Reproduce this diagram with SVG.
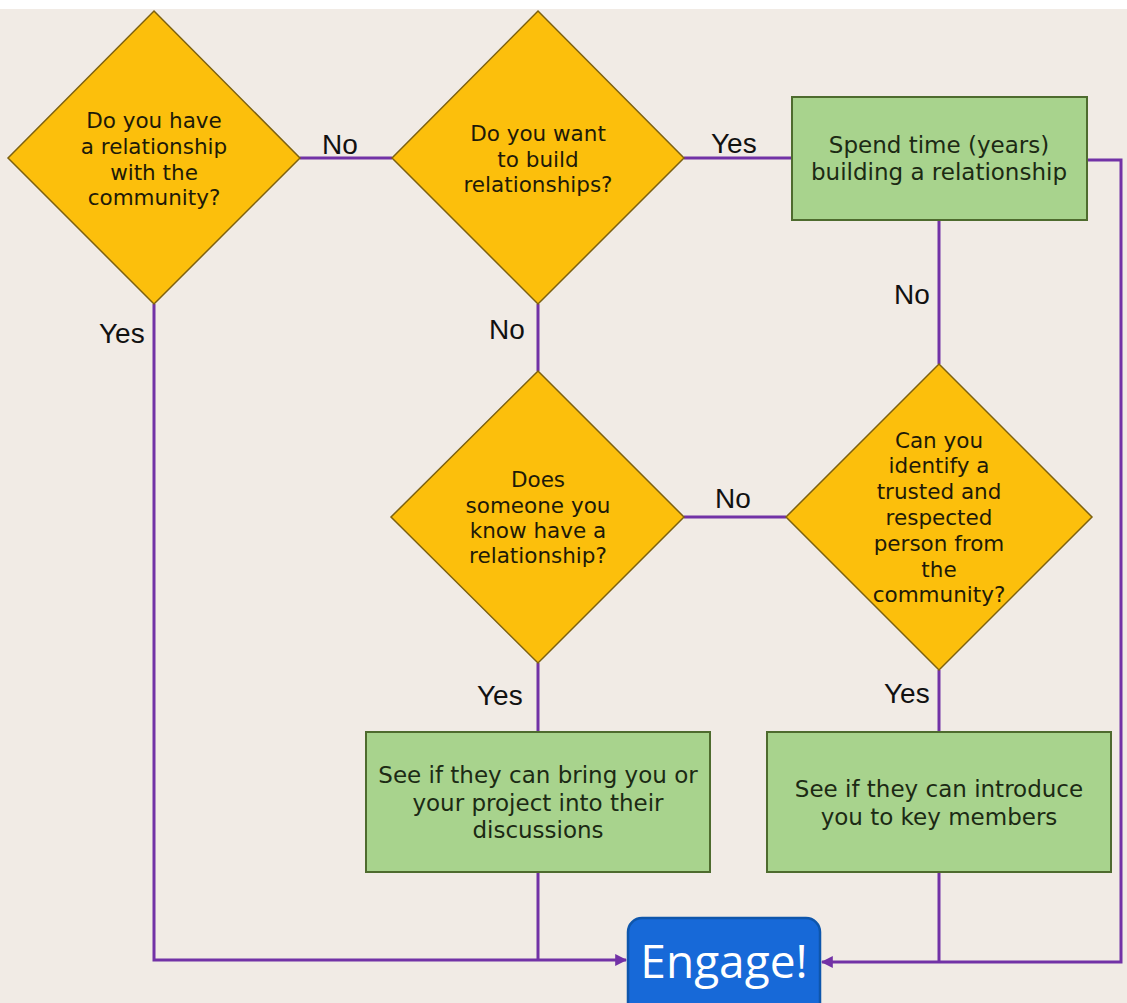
<svg xmlns="http://www.w3.org/2000/svg" width="1127" height="1003" viewBox="0 0 1127 1003">
<style>
.dia{fill:#fcbf0c;stroke:#7d6110;stroke-width:1.5}
.box{fill:#a8d38d;stroke:#4e6b2e;stroke-width:2}
.dt{font-family:"DejaVu Sans",Verdana,sans-serif;font-size:21.5px;fill:#1e1a08;text-anchor:middle}
.bt{font-family:"DejaVu Sans",Verdana,sans-serif;font-size:23px;fill:#1c2a14;text-anchor:middle}
.lbl{font-family:"Liberation Sans",Arial,sans-serif;font-size:28px;fill:#111}
.con{fill:none;stroke:#7232a6;stroke-width:3}
</style>
<defs>
<marker id="ah" viewBox="0 0 10 10" refX="9" refY="5" markerWidth="4" markerHeight="4" orient="auto" markerUnits="strokeWidth">
<path d="M0,0 L10,5 L0,10 z" fill="#7232a6"/>
</marker>
</defs>
<rect x="0" y="0" width="1127" height="1003" fill="#f1ebe5"/>
<rect x="0" y="0" width="1127" height="9" fill="#ffffff"/>
<g id="connectors">
<path class="con" d="M300,158 H392"/>
<path class="con" d="M684,158 H792"/>
<path class="con" d="M1087,160 H1121 V962 H822" marker-end="url(#ah)"/>
<path class="con" d="M939,220 V364"/>
<path class="con" d="M538,304 V371"/>
<path class="con" d="M684,517 H786"/>
<path class="con" d="M538,663 V732"/>
<path class="con" d="M939,670 V732"/>
<path class="con" d="M154,304 V960 H626" marker-end="url(#ah)"/>
<path class="con" d="M538,872 V960"/>
<path class="con" d="M939,872 V962"/>
<text class="lbl" x="322" y="154">No</text>
<text class="lbl" x="711" y="153">Yes</text>
<text class="lbl" x="894" y="304">No</text>
<text class="lbl" x="489" y="339">No</text>
<text class="lbl" x="715" y="508">No</text>
<text class="lbl" x="99" y="343">Yes</text>
<text class="lbl" x="477" y="705">Yes</text>
<text class="lbl" x="884" y="703">Yes</text>
</g>
<g id="q1">
<polygon class="dia" points="154,11 300,158 154,304 8,158"/>
<text class="dt" x="154" y="128">Do you have</text>
<text class="dt" x="154" y="154">a relationship</text>
<text class="dt" x="154" y="180">with the</text>
<text class="dt" x="154" y="205">community?</text>
</g>
<g id="q2">
<polygon class="dia" points="538,11 684,158 538,304 392,158"/>
<text class="dt" x="538" y="141">Do you want</text>
<text class="dt" x="538" y="167">to build</text>
<text class="dt" x="538" y="192">relationships?</text>
</g>
<g id="spend">
<rect class="box" x="792" y="97" width="295" height="123"/>
<text class="bt" x="939" y="153">Spend time (years)</text>
<text class="bt" x="939" y="180">building a relationship</text>
</g>
<g id="q3">
<polygon class="dia" points="538,371 684,517 538,663 391,517"/>
<text class="dt" x="538" y="487">Does</text>
<text class="dt" x="538" y="513">someone you</text>
<text class="dt" x="538" y="538">know have a</text>
<text class="dt" x="538" y="563">relationship?</text>
</g>
<g id="q4">
<polygon class="dia" points="939,364 1092,517 939,670 786,517"/>
<text class="dt" x="939" y="448">Can you</text>
<text class="dt" x="939" y="473">identify a</text>
<text class="dt" x="939" y="499">trusted and</text>
<text class="dt" x="939" y="525">respected</text>
<text class="dt" x="939" y="551">person from</text>
<text class="dt" x="939" y="577">the</text>
<text class="dt" x="939" y="602">community?</text>
</g>
<g id="bring">
<rect class="box" x="366" y="732" width="344" height="140"/>
<text class="bt" x="538" y="783">See if they can bring you or</text>
<text class="bt" x="538" y="811">your project into their</text>
<text class="bt" x="538" y="838">discussions</text>
</g>
<g id="introduce">
<rect class="box" x="767" y="732" width="344" height="140"/>
<text class="bt" x="939" y="797">See if they can introduce</text>
<text class="bt" x="939" y="825">you to key members</text>
</g>
<g id="engage">
<rect x="628" y="918" width="192" height="100" rx="14" fill="#1769d8" stroke="#0e56ac" stroke-width="2.5"/>
<text x="724" y="978" font-family="'Open Sans','Noto Sans',sans-serif" font-size="46" fill="#ffffff" text-anchor="middle">Engage!</text>
</g>
</svg>
